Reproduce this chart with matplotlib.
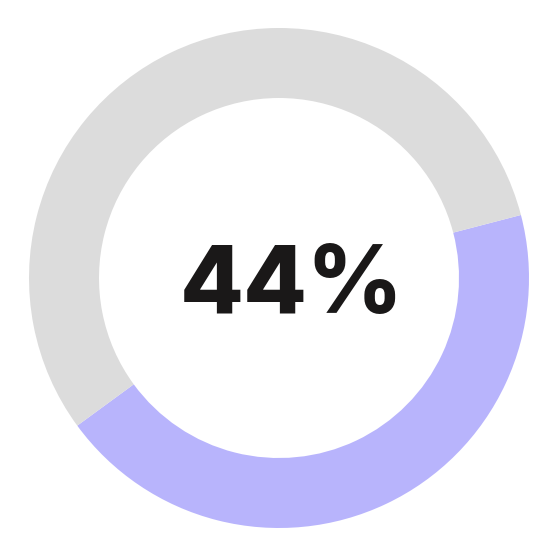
import matplotlib.pyplot as plt

# share shown in the donut
labels = ['share', 'rest']
values = [44, 56]
colors = ['#b8b4fc', '#dcdcdc']
center_label = '44%'

fig = plt.figure(figsize=(5.58, 5.58), dpi=100)
ax = fig.add_axes([0, 0, 1, 1])

ax.pie(values, colors=colors, startangle=14.6, counterclock=False,
       radius=1.0, wedgeprops=dict(width=0.28, linewidth=0))

# centre of the ring sits at about (279, 278) px, outer radius 250 px
ax.set_xlim(-279 / 250, (558 - 279) / 250)
ax.set_ylim(-280 / 250, 278 / 250)
ax.set_aspect('auto')
ax.axis('off')

ax.text(0.05, -0.14, center_label, ha='center', va='baseline',
        fontsize=67, fontweight='heavy', color='#1a1818', family='Inter')

fig.savefig('out.png', dpi=100)
